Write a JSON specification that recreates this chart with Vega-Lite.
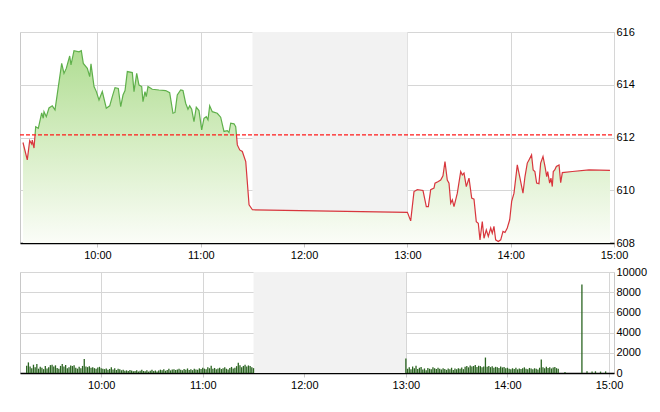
{
  "$schema": "https://vega.github.io/schema/vega-lite/v6.json",
  "padding": {"left": 16, "top": 25, "right": 0, "bottom": 0},
  "bounds": "flush",
  "spacing": 29,
  "config": {
    "view": {"stroke": "#c8c8c8"},
    "axis": {"labelFont": "Liberation Sans", "labelFontSize": 11, "labelColor": "#000", "gridColor": "#d6d6d6", "tickColor": "#c8c8c8", "zindex": 1}
  },
  "vconcat": [
    {
      "width": 594,
      "height": 211,
      "data": {"name": "price"},
      "encoding": {
        "x": {"field": "t", "type": "temporal", "scale": {"domain": [{"year": 2024, "month": 1, "date": 2, "hours": 9, "minutes": 15}, {"year": 2024, "month": 1, "date": 2, "hours": 15, "minutes": 0}]},
          "axis": {"values": [{"year": 2024, "month": 1, "date": 2, "hours": 10}, {"year": 2024, "month": 1, "date": 2, "hours": 11}, {"year": 2024, "month": 1, "date": 2, "hours": 12}, {"year": 2024, "month": 1, "date": 2, "hours": 13}, {"year": 2024, "month": 1, "date": 2, "hours": 14}, {"year": 2024, "month": 1, "date": 2, "hours": 15}], "format": "%H:%M", "title": null, "domainColor": "#000", "domainWidth": 1.5, "tickSize": 4, "labelPadding": 2, "grid": true, "labelFlush": false, "labelOverlap": false}},
        "y": {"field": "p", "type": "quantitative", "scale": {"domain": [608, 616], "zero": false},
          "axis": {"orient": "right", "values": [608, 610, 612, 614, 616], "domain": false, "ticks": false, "labelPadding": 2, "title": null, "grid": true, "labelFlush": false}}
      },
      "layer": [
        {
          "data": {"values": [{"t": "2024-01-02T11:30:00", "t2": "2024-01-02T13:00:00", "p": 616, "p2": 608}]},
          "mark": {"type": "rect", "color": "#f2f2f2"},
          "encoding": {"x2": {"field": "t2"}, "y2": {"field": "p2"}}
        },
        {
          "mark": {"type": "area", "line": false, "color": {"gradient": "linear", "x1": 0, "y1": 0, "x2": 0, "y2": 1, "stops": [{"offset": 0, "color": "#b0dd93"}, {"offset": 0.5, "color": "#d7eec5"}, {"offset": 1, "color": "#fbfdf8"}]}},
          "encoding": {"y2": {"datum": 608}}
        },
        {
          "mark": {"type": "line", "strokeWidth": 1.2},
          "encoding": {
            "color": {"field": "s", "type": "nominal", "scale": {"domain": ["a", "b", "c"], "range": ["#d8363d", "#5fb04b", "#d8363d"]}, "legend": null}
          }
        },
        {
          "data": {"values": [{"t": "2024-01-02T09:15:00", "p": 612.1}, {"t": "2024-01-02T15:00:00", "p": 612.1}]},
          "mark": {"type": "line", "color": "#ff1a1a", "strokeWidth": 1.3, "strokeDash": [4, 2]}
        }
      ]
    },
    {
      "width": 594,
      "height": 101,
      "data": {"name": "volume"},
      "encoding": {
        "x": {"field": "t", "type": "temporal", "scale": {"domain": [{"year": 2024, "month": 1, "date": 2, "hours": 9, "minutes": 15}, {"year": 2024, "month": 1, "date": 2, "hours": 15, "minutes": 0}]},
          "axis": {"values": [{"year": 2024, "month": 1, "date": 2, "hours": 10}, {"year": 2024, "month": 1, "date": 2, "hours": 11}, {"year": 2024, "month": 1, "date": 2, "hours": 12}, {"year": 2024, "month": 1, "date": 2, "hours": 13}, {"year": 2024, "month": 1, "date": 2, "hours": 14}, {"year": 2024, "month": 1, "date": 2, "hours": 15}], "format": "%H:%M", "title": null, "domainColor": "#000", "domainWidth": 1.5, "tickSize": 4, "labelPadding": 2, "grid": true, "labelFlush": false, "labelOverlap": false}},
        "y": {"field": "v", "type": "quantitative", "scale": {"domain": [0, 10000]},
          "axis": {"orient": "right", "values": [0, 2000, 4000, 6000, 8000, 10000], "format": "d", "domain": false, "ticks": false, "labelPadding": 2, "title": null, "grid": true, "labelFlush": false}}
      },
      "layer": [
        {
          "data": {"values": [{"t": "2024-01-02T11:30:00", "t2": "2024-01-02T13:00:00", "v": 10000, "v2": 0}]},
          "mark": {"type": "rect", "color": "#f2f2f2"},
          "encoding": {"x2": {"field": "t2"}, "y2": {"field": "v2"}}
        },
        {
          "mark": {"type": "bar", "width": 1.3, "color": "#2a6420"}
        }
      ]
    }
  ],
  "datasets": {
    "price": [
      {"t": "2024-01-02T09:16:44", "p": 611.81, "s": "a"},
      {"t": "2024-01-02T09:19:14", "p": 611.15, "s": "a"},
      {"t": "2024-01-02T09:20:38", "p": 611.88, "s": "a"},
      {"t": "2024-01-02T09:21:48", "p": 611.75, "s": "a"},
      {"t": "2024-01-02T09:22:08", "p": 611.90, "s": "a"},
      {"t": "2024-01-02T09:23:08", "p": 611.60, "s": "a"},
      {"t": "2024-01-02T09:23:45", "p": 612.10, "s": "a"},
      {"t": "2024-01-02T09:23:45", "p": 612.10, "s": "b"},
      {"t": "2024-01-02T09:24:07", "p": 612.41, "s": "b"},
      {"t": "2024-01-02T09:25:38", "p": 612.35, "s": "b"},
      {"t": "2024-01-02T09:27:36", "p": 612.93, "s": "b"},
      {"t": "2024-01-02T09:28:30", "p": 612.73, "s": "b"},
      {"t": "2024-01-02T09:28:56", "p": 612.98, "s": "b"},
      {"t": "2024-01-02T09:30:17", "p": 612.79, "s": "b"},
      {"t": "2024-01-02T09:31:50", "p": 613.12, "s": "b"},
      {"t": "2024-01-02T09:33:45", "p": 613.20, "s": "b"},
      {"t": "2024-01-02T09:35:20", "p": 613.05, "s": "b"},
      {"t": "2024-01-02T09:39:13", "p": 614.81, "s": "b"},
      {"t": "2024-01-02T09:40:33", "p": 614.43, "s": "b"},
      {"t": "2024-01-02T09:41:53", "p": 614.62, "s": "b"},
      {"t": "2024-01-02T09:43:52", "p": 615.09, "s": "b"},
      {"t": "2024-01-02T09:44:37", "p": 614.75, "s": "b"},
      {"t": "2024-01-02T09:46:22", "p": 615.29, "s": "b"},
      {"t": "2024-01-02T09:49:16", "p": 615.25, "s": "b"},
      {"t": "2024-01-02T09:50:36", "p": 615.29, "s": "b"},
      {"t": "2024-01-02T09:51:46", "p": 614.81, "s": "b"},
      {"t": "2024-01-02T09:54:06", "p": 614.62, "s": "b"},
      {"t": "2024-01-02T09:55:29", "p": 614.31, "s": "b"},
      {"t": "2024-01-02T09:56:14", "p": 614.79, "s": "b"},
      {"t": "2024-01-02T09:58:00", "p": 613.93, "s": "b"},
      {"t": "2024-01-02T09:59:20", "p": 613.74, "s": "b"},
      {"t": "2024-01-02T10:00:53", "p": 613.42, "s": "b"},
      {"t": "2024-01-02T10:02:48", "p": 613.74, "s": "b"},
      {"t": "2024-01-02T10:05:07", "p": 613.11, "s": "b"},
      {"t": "2024-01-02T10:07:06", "p": 613.20, "s": "b"},
      {"t": "2024-01-02T10:08:36", "p": 613.55, "s": "b"},
      {"t": "2024-01-02T10:10:11", "p": 613.89, "s": "b"},
      {"t": "2024-01-02T10:12:06", "p": 613.86, "s": "b"},
      {"t": "2024-01-02T10:13:30", "p": 613.17, "s": "b"},
      {"t": "2024-01-02T10:14:50", "p": 613.61, "s": "b"},
      {"t": "2024-01-02T10:16:00", "p": 613.78, "s": "b"},
      {"t": "2024-01-02T10:17:20", "p": 614.50, "s": "b"},
      {"t": "2024-01-02T10:20:14", "p": 614.46, "s": "b"},
      {"t": "2024-01-02T10:21:13", "p": 613.74, "s": "b"},
      {"t": "2024-01-02T10:22:47", "p": 614.43, "s": "b"},
      {"t": "2024-01-02T10:24:07", "p": 613.99, "s": "b"},
      {"t": "2024-01-02T10:25:41", "p": 613.93, "s": "b"},
      {"t": "2024-01-02T10:26:26", "p": 613.36, "s": "b"},
      {"t": "2024-01-02T10:27:36", "p": 613.74, "s": "b"},
      {"t": "2024-01-02T10:28:21", "p": 613.55, "s": "b"},
      {"t": "2024-01-02T10:29:20", "p": 613.93, "s": "b"},
      {"t": "2024-01-02T10:31:50", "p": 613.83, "s": "b"},
      {"t": "2024-01-02T10:35:43", "p": 613.80, "s": "b"},
      {"t": "2024-01-02T10:39:37", "p": 613.78, "s": "b"},
      {"t": "2024-01-02T10:41:56", "p": 613.70, "s": "b"},
      {"t": "2024-01-02T10:43:51", "p": 612.92, "s": "b"},
      {"t": "2024-01-02T10:45:01", "p": 612.95, "s": "b"},
      {"t": "2024-01-02T10:46:21", "p": 613.61, "s": "b"},
      {"t": "2024-01-02T10:48:20", "p": 613.80, "s": "b"},
      {"t": "2024-01-02T10:49:40", "p": 613.78, "s": "b"},
      {"t": "2024-01-02T10:51:13", "p": 613.30, "s": "b"},
      {"t": "2024-01-02T10:52:34", "p": 613.07, "s": "b"},
      {"t": "2024-01-02T10:53:33", "p": 613.20, "s": "b"},
      {"t": "2024-01-02T10:54:43", "p": 613.07, "s": "b"},
      {"t": "2024-01-02T10:56:03", "p": 612.60, "s": "b"},
      {"t": "2024-01-02T10:57:23", "p": 613.15, "s": "b"},
      {"t": "2024-01-02T10:58:57", "p": 613.02, "s": "b"},
      {"t": "2024-01-02T11:00:32", "p": 612.29, "s": "b"},
      {"t": "2024-01-02T11:01:52", "p": 612.73, "s": "b"},
      {"t": "2024-01-02T11:03:12", "p": 612.79, "s": "b"},
      {"t": "2024-01-02T11:04:11", "p": 612.67, "s": "b"},
      {"t": "2024-01-02T11:05:10", "p": 613.20, "s": "b"},
      {"t": "2024-01-02T11:06:40", "p": 612.98, "s": "b"},
      {"t": "2024-01-02T11:09:34", "p": 612.92, "s": "b"},
      {"t": "2024-01-02T11:11:33", "p": 612.77, "s": "b"},
      {"t": "2024-01-02T11:13:28", "p": 612.23, "s": "b"},
      {"t": "2024-01-02T11:15:24", "p": 612.26, "s": "b"},
      {"t": "2024-01-02T11:16:23", "p": 612.19, "s": "b"},
      {"t": "2024-01-02T11:17:23", "p": 612.54, "s": "b"},
      {"t": "2024-01-02T11:19:18", "p": 612.52, "s": "b"},
      {"t": "2024-01-02T11:20:17", "p": 612.41, "s": "b"},
      {"t": "2024-01-02T11:20:43", "p": 612.10, "s": "b"},
      {"t": "2024-01-02T11:20:43", "p": 612.10, "s": "c"},
      {"t": "2024-01-02T11:21:14", "p": 611.72, "s": "c"},
      {"t": "2024-01-02T11:22:37", "p": 611.53, "s": "c"},
      {"t": "2024-01-02T11:24:08", "p": 611.47, "s": "c"},
      {"t": "2024-01-02T11:26:07", "p": 611.09, "s": "c"},
      {"t": "2024-01-02T11:28:02", "p": 609.45, "s": "c"},
      {"t": "2024-01-02T11:30:00", "p": 609.26, "s": "c"},
      {"t": "2024-01-02T13:00:00", "p": 609.16, "s": "c"},
      {"t": "2024-01-02T13:01:55", "p": 608.84, "s": "c"},
      {"t": "2024-01-02T13:03:50", "p": 609.95, "s": "c"},
      {"t": "2024-01-02T13:05:46", "p": 610.02, "s": "c"},
      {"t": "2024-01-02T13:09:04", "p": 609.99, "s": "c"},
      {"t": "2024-01-02T13:11:00", "p": 609.38, "s": "c"},
      {"t": "2024-01-02T13:12:10", "p": 609.38, "s": "c"},
      {"t": "2024-01-02T13:13:32", "p": 610.02, "s": "c"},
      {"t": "2024-01-02T13:15:27", "p": 610.08, "s": "c"},
      {"t": "2024-01-02T13:16:02", "p": 610.27, "s": "c"},
      {"t": "2024-01-02T13:17:57", "p": 610.33, "s": "c"},
      {"t": "2024-01-02T13:19:20", "p": 610.39, "s": "c"},
      {"t": "2024-01-02T13:20:40", "p": 610.55, "s": "c"},
      {"t": "2024-01-02T13:21:50", "p": 611.09, "s": "c"},
      {"t": "2024-01-02T13:23:10", "p": 610.39, "s": "c"},
      {"t": "2024-01-02T13:24:10", "p": 610.27, "s": "c"},
      {"t": "2024-01-02T13:25:10", "p": 609.51, "s": "c"},
      {"t": "2024-01-02T13:26:06", "p": 609.64, "s": "c"},
      {"t": "2024-01-02T13:27:04", "p": 609.38, "s": "c"},
      {"t": "2024-01-02T13:29:00", "p": 609.89, "s": "c"},
      {"t": "2024-01-02T13:30:58", "p": 610.71, "s": "c"},
      {"t": "2024-01-02T13:31:54", "p": 610.58, "s": "c"},
      {"t": "2024-01-02T13:32:53", "p": 610.65, "s": "c"},
      {"t": "2024-01-02T13:34:13", "p": 610.14, "s": "c"},
      {"t": "2024-01-02T13:35:47", "p": 610.46, "s": "c"},
      {"t": "2024-01-02T13:37:21", "p": 609.70, "s": "c"},
      {"t": "2024-01-02T13:38:41", "p": 609.66, "s": "c"},
      {"t": "2024-01-02T13:40:01", "p": 608.81, "s": "c"},
      {"t": "2024-01-02T13:41:10", "p": 608.75, "s": "c"},
      {"t": "2024-01-02T13:42:10", "p": 608.12, "s": "c"},
      {"t": "2024-01-02T13:43:30", "p": 608.81, "s": "c"},
      {"t": "2024-01-02T13:44:30", "p": 608.18, "s": "c"},
      {"t": "2024-01-02T13:45:50", "p": 608.50, "s": "c"},
      {"t": "2024-01-02T13:47:00", "p": 608.25, "s": "c"},
      {"t": "2024-01-02T13:48:23", "p": 608.57, "s": "c"},
      {"t": "2024-01-02T13:49:18", "p": 608.37, "s": "c"},
      {"t": "2024-01-02T13:50:17", "p": 608.63, "s": "c"},
      {"t": "2024-01-02T13:51:16", "p": 608.12, "s": "c"},
      {"t": "2024-01-02T13:52:48", "p": 608.06, "s": "c"},
      {"t": "2024-01-02T13:54:12", "p": 608.12, "s": "c"},
      {"t": "2024-01-02T13:55:32", "p": 608.44, "s": "c"},
      {"t": "2024-01-02T13:56:41", "p": 608.40, "s": "c"},
      {"t": "2024-01-02T13:58:01", "p": 608.57, "s": "c"},
      {"t": "2024-01-02T13:59:25", "p": 608.88, "s": "c"},
      {"t": "2024-01-02T14:00:34", "p": 609.58, "s": "c"},
      {"t": "2024-01-02T14:01:55", "p": 609.89, "s": "c"},
      {"t": "2024-01-02T14:03:50", "p": 610.96, "s": "c"},
      {"t": "2024-01-02T14:05:13", "p": 610.52, "s": "c"},
      {"t": "2024-01-02T14:07:08", "p": 609.89, "s": "c"},
      {"t": "2024-01-02T14:08:18", "p": 610.52, "s": "c"},
      {"t": "2024-01-02T14:09:38", "p": 611.03, "s": "c"},
      {"t": "2024-01-02T14:10:37", "p": 611.15, "s": "c"},
      {"t": "2024-01-02T14:12:07", "p": 611.34, "s": "c"},
      {"t": "2024-01-02T14:13:03", "p": 610.77, "s": "c"},
      {"t": "2024-01-02T14:14:03", "p": 610.71, "s": "c"},
      {"t": "2024-01-02T14:15:04", "p": 610.27, "s": "c"},
      {"t": "2024-01-02T14:16:25", "p": 610.25, "s": "c"},
      {"t": "2024-01-02T14:17:24", "p": 611.03, "s": "c"},
      {"t": "2024-01-02T14:18:46", "p": 611.28, "s": "c"},
      {"t": "2024-01-02T14:19:56", "p": 610.90, "s": "c"},
      {"t": "2024-01-02T14:20:55", "p": 610.52, "s": "c"},
      {"t": "2024-01-02T14:21:30", "p": 610.71, "s": "c"},
      {"t": "2024-01-02T14:22:37", "p": 610.27, "s": "c"},
      {"t": "2024-01-02T14:23:23", "p": 610.46, "s": "c"},
      {"t": "2024-01-02T14:24:10", "p": 610.14, "s": "c"},
      {"t": "2024-01-02T14:24:44", "p": 610.71, "s": "c"},
      {"t": "2024-01-02T14:25:35", "p": 610.77, "s": "c"},
      {"t": "2024-01-02T14:26:31", "p": 610.90, "s": "c"},
      {"t": "2024-01-02T14:28:05", "p": 610.96, "s": "c"},
      {"t": "2024-01-02T14:29:02", "p": 610.29, "s": "c"},
      {"t": "2024-01-02T14:30:00", "p": 610.67, "s": "c"},
      {"t": "2024-01-02T14:35:48", "p": 610.71, "s": "c"},
      {"t": "2024-01-02T14:45:28", "p": 610.77, "s": "c"},
      {"t": "2024-01-02T14:57:40", "p": 610.75, "s": "c"}
    ],
    "volume": [
      {"t": "2024-01-02T09:16", "v": 720}, {"t": "2024-01-02T09:17", "v": 1050}, {"t": "2024-01-02T09:18", "v": 640}, {"t": "2024-01-02T09:19", "v": 480}, {"t": "2024-01-02T09:20", "v": 820},
      {"t": "2024-01-02T09:21", "v": 560}, {"t": "2024-01-02T09:22", "v": 900}, {"t": "2024-01-02T09:23", "v": 430}, {"t": "2024-01-02T09:24", "v": 610}, {"t": "2024-01-02T09:25", "v": 520},
      {"t": "2024-01-02T09:26", "v": 380}, {"t": "2024-01-02T09:27", "v": 690}, {"t": "2024-01-02T09:28", "v": 450}, {"t": "2024-01-02T09:29", "v": 560}, {"t": "2024-01-02T09:30", "v": 780},
      {"t": "2024-01-02T09:31", "v": 820}, {"t": "2024-01-02T09:32", "v": 640}, {"t": "2024-01-02T09:33", "v": 760}, {"t": "2024-01-02T09:34", "v": 500}, {"t": "2024-01-02T09:35", "v": 420},
      {"t": "2024-01-02T09:36", "v": 700}, {"t": "2024-01-02T09:37", "v": 880}, {"t": "2024-01-02T09:38", "v": 650}, {"t": "2024-01-02T09:39", "v": 790}, {"t": "2024-01-02T09:40", "v": 470},
      {"t": "2024-01-02T09:41", "v": 560}, {"t": "2024-01-02T09:42", "v": 740}, {"t": "2024-01-02T09:43", "v": 690}, {"t": "2024-01-02T09:44", "v": 760}, {"t": "2024-01-02T09:45", "v": 520},
      {"t": "2024-01-02T09:46", "v": 430}, {"t": "2024-01-02T09:47", "v": 610}, {"t": "2024-01-02T09:48", "v": 480}, {"t": "2024-01-02T09:49", "v": 700}, {"t": "2024-01-02T09:50", "v": 1380},
      {"t": "2024-01-02T09:51", "v": 640}, {"t": "2024-01-02T09:52", "v": 580}, {"t": "2024-01-02T09:53", "v": 660}, {"t": "2024-01-02T09:54", "v": 520}, {"t": "2024-01-02T09:55", "v": 560},
      {"t": "2024-01-02T09:56", "v": 480}, {"t": "2024-01-02T09:57", "v": 430}, {"t": "2024-01-02T09:58", "v": 550}, {"t": "2024-01-02T09:59", "v": 610}, {"t": "2024-01-02T10:00", "v": 470},
      {"t": "2024-01-02T10:01", "v": 420}, {"t": "2024-01-02T10:02", "v": 380}, {"t": "2024-01-02T10:03", "v": 450}, {"t": "2024-01-02T10:04", "v": 320}, {"t": "2024-01-02T10:05", "v": 400},
      {"t": "2024-01-02T10:06", "v": 560}, {"t": "2024-01-02T10:07", "v": 350}, {"t": "2024-01-02T10:08", "v": 470}, {"t": "2024-01-02T10:09", "v": 300}, {"t": "2024-01-02T10:10", "v": 420},
      {"t": "2024-01-02T10:11", "v": 380}, {"t": "2024-01-02T10:12", "v": 270}, {"t": "2024-01-02T10:13", "v": 330}, {"t": "2024-01-02T10:14", "v": 220}, {"t": "2024-01-02T10:15", "v": 260},
      {"t": "2024-01-02T10:16", "v": 190}, {"t": "2024-01-02T10:17", "v": 300}, {"t": "2024-01-02T10:18", "v": 240}, {"t": "2024-01-02T10:19", "v": 170}, {"t": "2024-01-02T10:20", "v": 210},
      {"t": "2024-01-02T10:21", "v": 280}, {"t": "2024-01-02T10:22", "v": 150}, {"t": "2024-01-02T10:23", "v": 230}, {"t": "2024-01-02T10:24", "v": 320}, {"t": "2024-01-02T10:25", "v": 200},
      {"t": "2024-01-02T10:26", "v": 180}, {"t": "2024-01-02T10:27", "v": 260}, {"t": "2024-01-02T10:28", "v": 140}, {"t": "2024-01-02T10:29", "v": 220}, {"t": "2024-01-02T10:30", "v": 310},
      {"t": "2024-01-02T10:31", "v": 190}, {"t": "2024-01-02T10:32", "v": 250}, {"t": "2024-01-02T10:33", "v": 160}, {"t": "2024-01-02T10:34", "v": 240}, {"t": "2024-01-02T10:35", "v": 330},
      {"t": "2024-01-02T10:36", "v": 280}, {"t": "2024-01-02T10:37", "v": 360}, {"t": "2024-01-02T10:38", "v": 220}, {"t": "2024-01-02T10:39", "v": 300}, {"t": "2024-01-02T10:40", "v": 410},
      {"t": "2024-01-02T10:41", "v": 260}, {"t": "2024-01-02T10:42", "v": 340}, {"t": "2024-01-02T10:43", "v": 380}, {"t": "2024-01-02T10:44", "v": 290}, {"t": "2024-01-02T10:45", "v": 350},
      {"t": "2024-01-02T10:46", "v": 420}, {"t": "2024-01-02T10:47", "v": 310}, {"t": "2024-01-02T10:48", "v": 270}, {"t": "2024-01-02T10:49", "v": 390}, {"t": "2024-01-02T10:50", "v": 330},
      {"t": "2024-01-02T10:51", "v": 450}, {"t": "2024-01-02T10:52", "v": 300}, {"t": "2024-01-02T10:53", "v": 370}, {"t": "2024-01-02T10:54", "v": 280}, {"t": "2024-01-02T10:55", "v": 410},
      {"t": "2024-01-02T10:56", "v": 350}, {"t": "2024-01-02T10:57", "v": 320}, {"t": "2024-01-02T10:58", "v": 460}, {"t": "2024-01-02T10:59", "v": 390}, {"t": "2024-01-02T11:00", "v": 520},
      {"t": "2024-01-02T11:01", "v": 430}, {"t": "2024-01-02T11:02", "v": 380}, {"t": "2024-01-02T11:03", "v": 560}, {"t": "2024-01-02T11:04", "v": 470}, {"t": "2024-01-02T11:05", "v": 720},
      {"t": "2024-01-02T11:06", "v": 410}, {"t": "2024-01-02T11:07", "v": 500}, {"t": "2024-01-02T11:08", "v": 360}, {"t": "2024-01-02T11:09", "v": 440}, {"t": "2024-01-02T11:10", "v": 530},
      {"t": "2024-01-02T11:11", "v": 390}, {"t": "2024-01-02T11:12", "v": 470}, {"t": "2024-01-02T11:13", "v": 580}, {"t": "2024-01-02T11:14", "v": 420}, {"t": "2024-01-02T11:15", "v": 350},
      {"t": "2024-01-02T11:16", "v": 490}, {"t": "2024-01-02T11:17", "v": 600}, {"t": "2024-01-02T11:18", "v": 440}, {"t": "2024-01-02T11:19", "v": 520}, {"t": "2024-01-02T11:20", "v": 680},
      {"t": "2024-01-02T11:21", "v": 1020}, {"t": "2024-01-02T11:22", "v": 760}, {"t": "2024-01-02T11:23", "v": 580}, {"t": "2024-01-02T11:24", "v": 700}, {"t": "2024-01-02T11:25", "v": 820},
      {"t": "2024-01-02T11:26", "v": 640}, {"t": "2024-01-02T11:27", "v": 750}, {"t": "2024-01-02T11:28", "v": 690}, {"t": "2024-01-02T11:29", "v": 560}, {"t": "2024-01-02T11:30", "v": 480},
      {"t": "2024-01-02T13:00", "v": 1430}, {"t": "2024-01-02T13:01", "v": 420}, {"t": "2024-01-02T13:02", "v": 560}, {"t": "2024-01-02T13:03", "v": 380}, {"t": "2024-01-02T13:04", "v": 640},
      {"t": "2024-01-02T13:05", "v": 480}, {"t": "2024-01-02T13:06", "v": 710}, {"t": "2024-01-02T13:07", "v": 390}, {"t": "2024-01-02T13:08", "v": 520}, {"t": "2024-01-02T13:09", "v": 600},
      {"t": "2024-01-02T13:10", "v": 340}, {"t": "2024-01-02T13:11", "v": 450}, {"t": "2024-01-02T13:12", "v": 280}, {"t": "2024-01-02T13:13", "v": 500}, {"t": "2024-01-02T13:14", "v": 420},
      {"t": "2024-01-02T13:15", "v": 360}, {"t": "2024-01-02T13:16", "v": 560}, {"t": "2024-01-02T13:17", "v": 470}, {"t": "2024-01-02T13:18", "v": 390}, {"t": "2024-01-02T13:19", "v": 510},
      {"t": "2024-01-02T13:20", "v": 430}, {"t": "2024-01-02T13:21", "v": 350}, {"t": "2024-01-02T13:22", "v": 480}, {"t": "2024-01-02T13:23", "v": 400}, {"t": "2024-01-02T13:24", "v": 310},
      {"t": "2024-01-02T13:25", "v": 450}, {"t": "2024-01-02T13:26", "v": 380}, {"t": "2024-01-02T13:27", "v": 520}, {"t": "2024-01-02T13:28", "v": 290}, {"t": "2024-01-02T13:29", "v": 440},
      {"t": "2024-01-02T13:30", "v": 360}, {"t": "2024-01-02T13:31", "v": 470}, {"t": "2024-01-02T13:32", "v": 410}, {"t": "2024-01-02T13:33", "v": 540}, {"t": "2024-01-02T13:34", "v": 380},
      {"t": "2024-01-02T13:35", "v": 620}, {"t": "2024-01-02T13:36", "v": 700}, {"t": "2024-01-02T13:37", "v": 560}, {"t": "2024-01-02T13:38", "v": 740}, {"t": "2024-01-02T13:39", "v": 650},
      {"t": "2024-01-02T13:40", "v": 690}, {"t": "2024-01-02T13:41", "v": 780}, {"t": "2024-01-02T13:42", "v": 600}, {"t": "2024-01-02T13:43", "v": 720}, {"t": "2024-01-02T13:44", "v": 680},
      {"t": "2024-01-02T13:45", "v": 560}, {"t": "2024-01-02T13:46", "v": 640}, {"t": "2024-01-02T13:47", "v": 1530}, {"t": "2024-01-02T13:48", "v": 620}, {"t": "2024-01-02T13:49", "v": 700},
      {"t": "2024-01-02T13:50", "v": 580}, {"t": "2024-01-02T13:51", "v": 660}, {"t": "2024-01-02T13:52", "v": 520}, {"t": "2024-01-02T13:53", "v": 610}, {"t": "2024-01-02T13:54", "v": 570},
      {"t": "2024-01-02T13:55", "v": 490}, {"t": "2024-01-02T13:56", "v": 640}, {"t": "2024-01-02T13:57", "v": 550}, {"t": "2024-01-02T13:58", "v": 600}, {"t": "2024-01-02T13:59", "v": 480},
      {"t": "2024-01-02T14:00", "v": 520}, {"t": "2024-01-02T14:01", "v": 430}, {"t": "2024-01-02T14:02", "v": 380}, {"t": "2024-01-02T14:03", "v": 470}, {"t": "2024-01-02T14:04", "v": 400},
      {"t": "2024-01-02T14:05", "v": 520}, {"t": "2024-01-02T14:06", "v": 360}, {"t": "2024-01-02T14:07", "v": 450}, {"t": "2024-01-02T14:08", "v": 390}, {"t": "2024-01-02T14:09", "v": 480},
      {"t": "2024-01-02T14:10", "v": 560}, {"t": "2024-01-02T14:11", "v": 420}, {"t": "2024-01-02T14:12", "v": 370}, {"t": "2024-01-02T14:13", "v": 500}, {"t": "2024-01-02T14:14", "v": 440},
      {"t": "2024-01-02T14:15", "v": 380}, {"t": "2024-01-02T14:16", "v": 470}, {"t": "2024-01-02T14:17", "v": 410}, {"t": "2024-01-02T14:18", "v": 350}, {"t": "2024-01-02T14:19", "v": 520},
      {"t": "2024-01-02T14:20", "v": 1330}, {"t": "2024-01-02T14:21", "v": 560}, {"t": "2024-01-02T14:22", "v": 480}, {"t": "2024-01-02T14:23", "v": 620}, {"t": "2024-01-02T14:24", "v": 500},
      {"t": "2024-01-02T14:25", "v": 580}, {"t": "2024-01-02T14:26", "v": 450}, {"t": "2024-01-02T14:27", "v": 540}, {"t": "2024-01-02T14:28", "v": 600}, {"t": "2024-01-02T14:29", "v": 480},
      {"t": "2024-01-02T14:30", "v": 420}, {"t": "2024-01-02T14:34", "v": 110}, {"t": "2024-01-02T14:44", "v": 8770}, {"t": "2024-01-02T14:47", "v": 180}, {"t": "2024-01-02T14:50", "v": 150},
      {"t": "2024-01-02T14:52", "v": 170}, {"t": "2024-01-02T14:55", "v": 140}, {"t": "2024-01-02T14:58", "v": 160}
    ]
  }
}
